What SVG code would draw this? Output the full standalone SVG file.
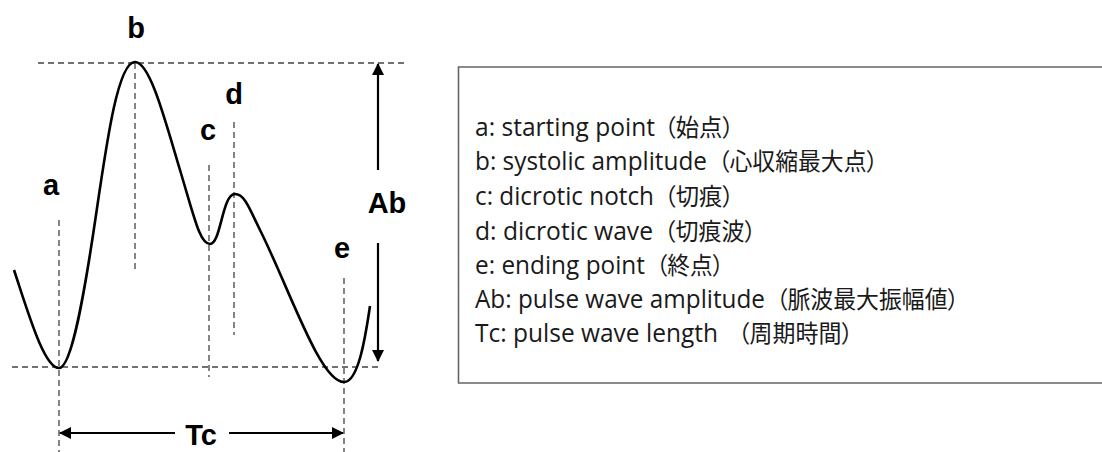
<svg xmlns="http://www.w3.org/2000/svg" width="1102" height="452" viewBox="0 0 1102 452">
<defs>
<style>
.dash{stroke:#444;stroke-width:1.3;stroke-dasharray:6 4;fill:none}
.ln{stroke:#000;stroke-width:2.2;fill:none}
.lbl{font-family:"Liberation Sans",Arial,sans-serif;font-weight:bold;font-size:29px;fill:#000;text-anchor:middle}
.row{fill:#1a1a1a}
.lat{font-family:"Open Sans","Noto Sans",sans-serif;font-size:25px}
.cjk{font-family:"Noto Sans CJK JP",sans-serif;font-size:24px;font-feature-settings:"palt"}
</style>
<marker id="ah" viewBox="0 0 12 12" refX="11" refY="6" markerWidth="12" markerHeight="12" markerUnits="userSpaceOnUse" orient="auto">
<path d="M0,0 L12,6 L0,12 Z" fill="#000"/>
</marker>
</defs>
<g id="guides">
<line class="dash" x1="38" y1="63" x2="407" y2="63"/>
<line class="dash" x1="12" y1="367" x2="380" y2="367"/>
<line class="dash" x1="59" y1="220" x2="59" y2="452"/>
<line class="dash" x1="135" y1="63" x2="135" y2="273"/>
<line class="dash" x1="209" y1="165" x2="209" y2="377"/>
<line class="dash" x1="234" y1="122" x2="234" y2="335"/>
<line class="dash" x1="344" y1="278" x2="344" y2="452"/>
</g>
<g id="waveform">
<path d="M14,270 C28,312 44,368 59,368 C72,368 85,290 96,215 C107,140 118,62 135,62 C150,62 165,120 180,170 C195,220 200,244 210,244 C221,244 222,194 235,194 C245,194 250,210 260,230 C290,290 320,382 344,382 C358,382 365,340 370,306" fill="none" stroke="#000" stroke-width="2.6"/>
</g>
<g id="connectors">
<line class="ln" x1="378" y1="170" x2="378" y2="64" marker-end="url(#ah)"/>
<line class="ln" x1="378" y1="243" x2="378" y2="361" marker-end="url(#ah)"/>
<line class="ln" x1="175" y1="433" x2="60" y2="433" marker-end="url(#ah)"/>
<line class="ln" x1="229" y1="433" x2="343" y2="433" marker-end="url(#ah)"/>
</g>
<g id="labels">
<text class="lbl" x="51" y="195">a</text>
<text class="lbl" x="136" y="38">b</text>
<text class="lbl" x="208" y="140">c</text>
<text class="lbl" x="234" y="104">d</text>
<text class="lbl" x="342" y="258">e</text>
<text class="lbl" x="387" y="213">Ab</text>
<text class="lbl" x="201" y="445">Tc</text>
</g>
<g id="legend">
<path d="M1103,67 H458.5 V383 H1103" fill="none" stroke="#666" stroke-width="1.6"/>
<text class="row" y="136"><tspan class="lat" x="475" textLength="180" lengthAdjust="spacingAndGlyphs">a: starting point</tspan><tspan class="cjk" x="664" textLength="70" lengthAdjust="spacingAndGlyphs">（始点）</tspan></text>
<text class="row" y="170"><tspan class="lat" x="475" textLength="232" lengthAdjust="spacingAndGlyphs">b: systolic amplitude</tspan><tspan class="cjk" x="718" textLength="160" lengthAdjust="spacingAndGlyphs">（心収縮最大点）</tspan></text>
<text class="row" y="205"><tspan class="lat" x="475" textLength="179" lengthAdjust="spacingAndGlyphs">c: dicrotic notch</tspan><tspan class="cjk" x="664" textLength="70" lengthAdjust="spacingAndGlyphs">（切痕）</tspan></text>
<text class="row" y="240"><tspan class="lat" x="475" textLength="178" lengthAdjust="spacingAndGlyphs">d: dicrotic wave</tspan><tspan class="cjk" x="664" textLength="92" lengthAdjust="spacingAndGlyphs">（切痕波）</tspan></text>
<text class="row" y="274"><tspan class="lat" x="475" textLength="170" lengthAdjust="spacingAndGlyphs">e: ending point</tspan><tspan class="cjk" x="656" textLength="68" lengthAdjust="spacingAndGlyphs">（終点）</tspan></text>
<text class="row" y="308"><tspan class="lat" x="475" textLength="290" lengthAdjust="spacingAndGlyphs">Ab: pulse wave amplitude</tspan><tspan class="cjk" x="776" textLength="183" lengthAdjust="spacingAndGlyphs">（脈波最大振幅値）</tspan></text>
<text class="row" y="342"><tspan class="lat" x="475" textLength="243" lengthAdjust="spacingAndGlyphs">Tc: pulse wave length</tspan><tspan class="cjk" x="738" textLength="115" lengthAdjust="spacingAndGlyphs">（周期時間）</tspan></text>
</g>
</svg>
